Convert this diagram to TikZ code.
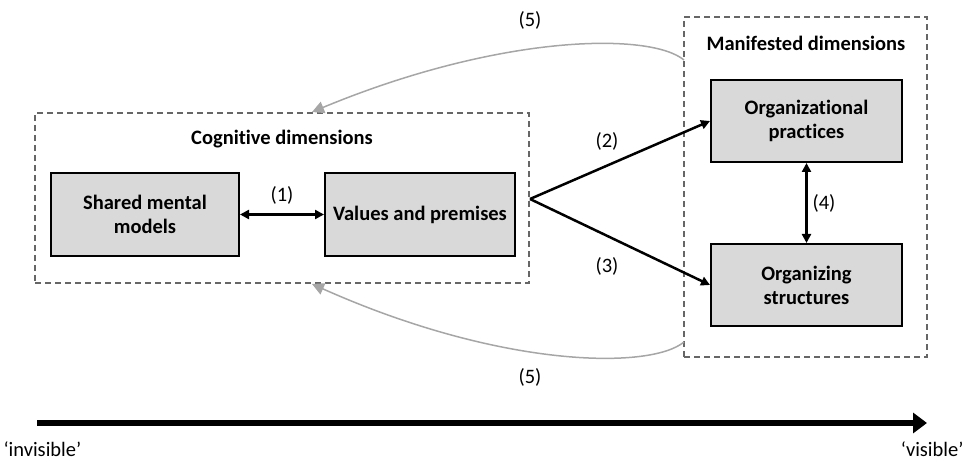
\documentclass[tikz,border=0pt]{standalone}
\usepackage{fontspec}
\setmainfont{Carlito}[Ligatures=NoCommon]
\usetikzlibrary{arrows.meta}

\begin{document}
\begin{tikzpicture}[
  x=1pt, y=-1pt,
  every node/.style={font=\fontsize{20.5}{24}\selectfont, align=center},
  box/.style={rectangle, draw=black, line width=2pt, fill=black!15, font=\fontsize{20.5}{24}\selectfont\bfseries, minimum height=83pt},
  title/.style={font=\fontsize{20.5}{24}\selectfont\bfseries},
  group/.style={rectangle, draw=black!60, dashed, dash pattern=on 6pt off 4pt, line width=1.2pt},
  line/.style={-{Triangle[length=9pt,width=9pt]}, line width=2.5pt, draw=black},
  twoway/.style={{Triangle[length=9pt,width=9pt]}-{Triangle[length=9pt,width=9pt]}, line width=2.5pt, draw=black},
  back/.style={-{Triangle[length=12pt,width=12pt]}, line width=1.5pt, draw=black!35}
]
\useasboundingbox (0,0) rectangle (967,462);

% Groups
\node[group, minimum width=494pt, minimum height=170pt] (cog) at (282,198) {};
\node[group, minimum width=243pt, minimum height=340pt] (man) at (805.5,187) {};
\node[title] (cogtitle) at (282,139) {Cognitive dimensions};
\node[title] (mantitle) at (806,43) {Manifested dimensions};

% Boxes
\node[box, minimum width=188pt] (shared) at (145,214.5) {Shared mental\\models};
\node[box, minimum width=190pt] (values) at (420,214.5) {Values and premises};
\node[box, minimum width=191pt, minimum height=82pt] (practices) at (806.5,121) {Organizational\\practices};
\node[box, minimum width=191pt, minimum height=82pt] (structures) at (806.5,285) {Organizing\\structures};

\coordinate (fork) at (530,199);
\coordinate (mantop) at (684,60);
\coordinate (manbot) at (684,342);
\coordinate (cogtop) at (312,112);
\coordinate (cogbot) at (312,284);

% Arrows
\draw [twoway] (shared) -- (values);
\draw [line] (fork) -- (practices.west);
\draw [line] (fork) -- (structures.west);
\draw [twoway] (practices) -- (structures);
\draw [back] (mantop) .. controls (650,32) and (500,34) .. (cogtop);
\draw [back] (manbot) .. controls (650,370) and (500,368) .. (cogbot);

% Labels
\node (l1) at (282,195) {(1)};
\node (l2) at (607,141) {(2)};
\node (l3) at (607,266) {(3)};
\node (l4) at (824,203) {(4)};
\node (l5a) at (530,20) {(5)};
\node (l5b) at (530,377) {(5)};

% Axis
\coordinate (axisstart) at (37,423);
\coordinate (axisend) at (927,423);
\draw [-{Triangle[length=14pt,width=20pt]}, line width=6pt] (axisstart) -- (axisend);
\node[anchor=west] (invisible) at (0,449) {‘invisible’};
\node[anchor=east] (visible) at (967,449) {‘visible’};

\end{tikzpicture}
\end{document}
